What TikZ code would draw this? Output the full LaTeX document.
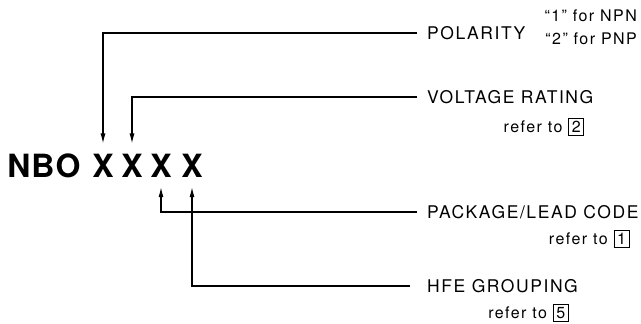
\documentclass[tikz,border=0pt]{standalone}
\usepackage{fontspec}
\setmainfont{TeX Gyre Heros}
\newfontfamily\spaced{TeX Gyre Heros}[LetterSpace=9]
\usetikzlibrary{arrows.meta}

\begin{document}
\begin{tikzpicture}[x=1pt,y=-1pt,line cap=butt,line join=miter,
		>={Latex[length=10pt,width=5pt]},
		code/.style={font=\fontsize{32pt}{36pt}\selectfont\bfseries, inner xsep=0pt, inner ysep=10pt, anchor=base},
		field/.style={font=\spaced\fontsize{17.5pt}{20pt}\selectfont, inner sep=0pt, anchor=west},
		note/.style={font=\spaced\fontsize{16pt}{19pt}\selectfont, inner sep=0pt, anchor=east},
		conn/.style={line width=1.1pt, ->, shorten <=10pt}]
	\useasboundingbox (0,0) rectangle (641,324);
	\setlength{\fboxsep}{2.6pt}\setlength{\fboxrule}{0.9pt}
	
	% the part number, one node for each letter
	\foreach \ch/\x [count=\i] in {N/19,B/43,O/68,X/103,X/132,X/161,X/192}
		\node[code] (c\i) at (\x,177) {\ch};
	
	\node[field] (pol) at (427,33) {POLARITY};
	\node[note] (npn) at (637,16) {“1” for NPN};
	\node[note] (pnp) at (637,39) {“2” for PNP};
	
	\node[field] (volt) at (427,97) {VOLTAGE RATING};
	\node[note] (vref) at ([xshift=-9pt,yshift=-30pt]volt.east) {refer to \fbox{2}};
	
	\node[field] (pack) at (427,212) {PACKAGE/LEAD CODE};
	\node[note] (pref) at ([xshift=-9pt,yshift=-27pt]pack.east) {refer to \fbox{1}};
	
	\node[field] (hfe) at (427,286) {HFE GROUPING};
	\node[note] (href) at ([xshift=-9pt,yshift=-27pt]hfe.east) {refer to \fbox{5}};
	
	\draw[conn] (pol.west) -| (c4.north);
	\draw[conn] (volt.west) -| (c5.north);
	\draw[conn] (pack.west) -| (c6.south);
	\draw[conn,shorten <=17pt] (hfe.west) -| (c7.south);
	
\end{tikzpicture}
\end{document}
